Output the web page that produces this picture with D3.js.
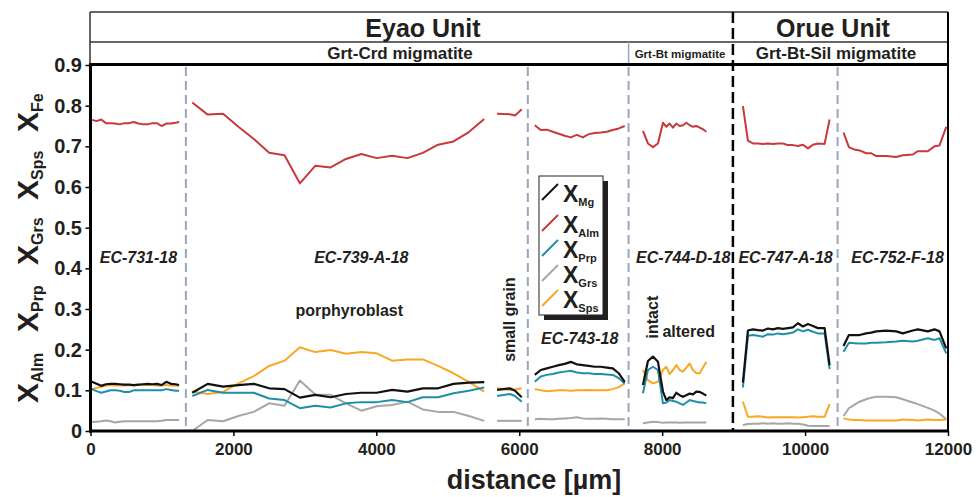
<!DOCTYPE html>
<html><head><meta charset="utf-8">
<script src="https://cdn.jsdelivr.net/npm/d3@7"></script>
<style>
body{margin:0;background:#fff}
svg{display:block}
text{font-family:"Liberation Sans",Arial,Helvetica,sans-serif;fill:#231f20}
</style>
</head><body><svg id="c" width="977" height="497"></svg>
<script>
// ---------------- DATA ----------------
const xTicks = [0,2000,4000,6000,8000,10000,12000];
const yTicks = [0,0.1,0.2,0.3,0.4,0.5,0.6,0.7,0.8,0.9];

// EC-731-18
const d731 = [20,85,150,215,280,345,410,475,540,605,670,735,800,865,930,995,1060,1125,1190,1240];
const alm731 = [0.765,0.762,0.766,0.757,0.757,0.756,0.754,0.757,0.757,0.760,0.756,0.754,0.754,0.757,0.757,0.750,0.756,0.756,0.758,0.760];
const mg731  = [0.121,0.116,0.111,0.115,0.116,0.116,0.115,0.114,0.114,0.113,0.114,0.115,0.116,0.115,0.116,0.113,0.121,0.116,0.115,0.113];
const sps731 = [0.103,0.106,0.109,0.112,0.113,0.112,0.112,0.112,0.113,0.112,0.113,0.113,0.114,0.113,0.112,0.112,0.113,0.112,0.111,0.111];
const prp731 = [0.103,0.098,0.094,0.097,0.100,0.100,0.099,0.096,0.096,0.100,0.100,0.100,0.100,0.100,0.100,0.100,0.103,0.101,0.099,0.099];
const grs731 = [0.022,0.023,0.024,0.026,0.024,0.021,0.023,0.024,0.024,0.024,0.024,0.024,0.024,0.024,0.024,0.025,0.027,0.027,0.027,0.027];

// EC-739-A-18 (porphyroblast)
const d739 = [1424,1640,1855,2070,2285,2500,2715,2930,3145,3360,3575,3790,4005,4220,4435,4650,4865,5080,5295,5510];
const alm739 = [0.808,0.778,0.780,0.748,0.718,0.684,0.678,0.609,0.652,0.648,0.669,0.681,0.671,0.677,0.671,0.684,0.704,0.712,0.735,0.767];
const mg739  = [0.094,0.116,0.109,0.113,0.116,0.105,0.103,0.082,0.089,0.083,0.091,0.094,0.094,0.101,0.097,0.105,0.105,0.116,0.119,0.120];
const sps739 = [0.097,0.091,0.096,0.117,0.135,0.160,0.173,0.206,0.194,0.199,0.190,0.194,0.191,0.173,0.176,0.176,0.160,0.142,0.121,0.097];
const prp739 = [0.086,0.101,0.094,0.094,0.094,0.080,0.076,0.056,0.062,0.058,0.068,0.071,0.071,0.076,0.071,0.083,0.083,0.093,0.099,0.107];
const grs739 = [0.000,0.027,0.024,0.037,0.047,0.068,0.062,0.124,0.090,0.089,0.068,0.050,0.061,0.064,0.072,0.053,0.047,0.047,0.037,0.025];

// EC-739-A-18 (small grain)
const dSmall = [5690,5867,5941,6035];
const almSmall = [0.780,0.779,0.776,0.791];
const mgSmall  = [0.101,0.105,0.099,0.083];
const spsSmall = [0.105,0.101,0.102,0.105];
const prpSmall = [0.086,0.091,0.086,0.072];
const grsSmall = [0.025,0.025,0.025,0.025];

// EC-743-18
const d743 = [6217,6301,6385,6469,6553,6637,6721,6805,6889,6973,7057,7141,7225,7309,7393,7476];
const alm743 = [0.752,0.740,0.741,0.736,0.731,0.726,0.722,0.728,0.722,0.730,0.733,0.734,0.736,0.740,0.744,0.750];
const mg743  = [0.138,0.150,0.154,0.158,0.162,0.165,0.170,0.164,0.162,0.160,0.158,0.158,0.156,0.154,0.142,0.121];
const sps743 = [0.103,0.100,0.098,0.099,0.100,0.100,0.099,0.100,0.100,0.101,0.100,0.100,0.100,0.103,0.108,0.117];
const prp743 = [0.121,0.134,0.138,0.140,0.144,0.146,0.148,0.144,0.142,0.142,0.140,0.140,0.139,0.138,0.130,0.117];
const grs743 = [0.029,0.030,0.029,0.029,0.030,0.031,0.032,0.034,0.031,0.030,0.030,0.031,0.030,0.029,0.029,0.029];

// EC-744-D-18
const d744 = [7731,7801,7871,7941,8011,8058,8104,8151,8198,8245,8291,8338,8385,8431,8478,8525,8571,8618];
const alm744 = [0.738,0.707,0.698,0.707,0.758,0.748,0.756,0.746,0.756,0.750,0.752,0.758,0.752,0.748,0.750,0.746,0.742,0.736];
const mg744  = [0.113,0.172,0.183,0.170,0.097,0.076,0.083,0.081,0.094,0.088,0.084,0.088,0.092,0.090,0.097,0.096,0.092,0.087];
const sps744 = [0.150,0.125,0.117,0.121,0.150,0.158,0.140,0.150,0.162,0.150,0.146,0.156,0.166,0.150,0.142,0.142,0.156,0.170];
const prp744 = [0.093,0.150,0.158,0.150,0.068,0.070,0.076,0.074,0.072,0.068,0.064,0.070,0.076,0.074,0.072,0.070,0.070,0.068];
const grs744 = [0.019,0.021,0.023,0.022,0.020,0.021,0.021,0.021,0.021,0.020,0.021,0.021,0.021,0.021,0.021,0.021,0.021,0.021];

// EC-747-A-18
const d747 = [9130,9200,9270,9340,9410,9480,9550,9620,9690,9760,9830,9900,9970,10040,10110,10180,10273,10343];
const alm747 = [0.799,0.714,0.707,0.707,0.706,0.707,0.706,0.707,0.707,0.703,0.703,0.701,0.704,0.695,0.704,0.707,0.706,0.766];
const mg747  = [0.119,0.247,0.250,0.248,0.247,0.252,0.250,0.253,0.251,0.253,0.255,0.265,0.257,0.263,0.258,0.253,0.253,0.162];
const sps747 = [0.072,0.035,0.035,0.036,0.035,0.033,0.034,0.034,0.034,0.034,0.034,0.033,0.034,0.035,0.036,0.035,0.035,0.066];
const prp747 = [0.107,0.234,0.236,0.234,0.232,0.238,0.237,0.240,0.238,0.240,0.242,0.250,0.245,0.249,0.244,0.240,0.240,0.152];
const grs747 = [0.015,0.017,0.018,0.018,0.019,0.018,0.019,0.018,0.018,0.019,0.018,0.018,0.016,0.013,0.012,0.012,0.012,0.012];

// EC-752-F-18
const d752 = [10538,10613,10692,10762,10855,10926,10996,11136,11276,11368,11508,11578,11718,11811,11881,11975];
const alm752 = [0.734,0.698,0.692,0.690,0.683,0.683,0.676,0.676,0.674,0.678,0.680,0.688,0.688,0.700,0.702,0.748];
const mg752  = [0.209,0.236,0.236,0.236,0.240,0.242,0.245,0.247,0.245,0.240,0.247,0.250,0.245,0.250,0.245,0.203];
const sps752 = [0.031,0.028,0.027,0.027,0.026,0.026,0.026,0.026,0.026,0.028,0.027,0.026,0.028,0.027,0.027,0.028];
const prp752 = [0.195,0.217,0.216,0.215,0.215,0.217,0.217,0.218,0.220,0.222,0.220,0.222,0.228,0.224,0.228,0.191];
const grs752 = [0.037,0.056,0.065,0.072,0.078,0.082,0.084,0.084,0.083,0.078,0.070,0.066,0.057,0.050,0.043,0.029];

// boundaries (µm)
const sampleBounds = [1335,6120,7530,10455];
const unitBound = 8990;

// labels
const sampleLabels = ["EC-731-18","EC-739-A-18","EC-743-18","EC-744-D-18","EC-747-A-18","EC-752-F-18"];
const sampleLabelX = [671,3790,6846,8294,9727,11294];
const sampleLabelY = [0.413,0.413,0.214,0.413,0.413,0.413];
const seriesKeys = ["grs","sps","prp","alm","mg"];
const seriesColors = {mg:"#111111",alm:"#c8383c",prp:"#1f8fa8",grs:"#a6a6a6",sps:"#f8a825"};
const legendKeys = ["Mg","Alm","Prp","Grs","Sps"];
const legendColorKeys = ["mg","alm","prp","grs","sps"];
const yLabelSubs = ["Alm","Prp","Grs","Sps","Fe"];

// build table from arrays
const segments = [
  {d:d731, mg:mg731, alm:alm731, prp:prp731, grs:grs731, sps:sps731},
  {d:d739, mg:mg739, alm:alm739, prp:prp739, grs:grs739, sps:sps739},
  {d:dSmall, mg:mgSmall, alm:almSmall, prp:prpSmall, grs:grsSmall, sps:spsSmall},
  {d:d743, mg:mg743, alm:alm743, prp:prp743, grs:grs743, sps:sps743},
  {d:d744, mg:mg744, alm:alm744, prp:prp744, grs:grs744, sps:sps744},
  {d:d747, mg:mg747, alm:alm747, prp:prp747, grs:grs747, sps:sps747},
  {d:d752, mg:mg752, alm:alm752, prp:prp752, grs:grs752, sps:sps752}
];

// ---------------- CHART ----------------
const svg = d3.select("#c");
const L = 90.5, R = 948, T = 65, B = 431;
const x = d3.scaleLinear().domain([0,12000]).range([L,R]);
const y = d3.scaleLinear().domain([0,0.9]).range([B,T]);
const dark = "#231f20";

// header
const hTop = 12, hMid = 42;
svg.append("line").attr("x1",L-0.5).attr("x2",R).attr("y1",hTop).attr("y2",hTop).attr("stroke","#333").attr("stroke-width",1.5);
svg.append("line").attr("x1",L-0.5).attr("x2",R).attr("y1",hMid).attr("y2",hMid).attr("stroke","#333").attr("stroke-width",1.5);
svg.append("line").attr("x1",L-0.5).attr("x2",L-0.5).attr("y1",hTop).attr("y2",T).attr("stroke","#333").attr("stroke-width",1.5);
svg.append("line").attr("x1",x(sampleBounds[2])).attr("x2",x(sampleBounds[2])).attr("y1",hMid).attr("y2",T).attr("stroke","#9aa5c0").attr("stroke-width",1.5);

svg.append("text").attr("x",423).attr("y",37).attr("text-anchor","middle").attr("font-size",25).attr("font-weight","bold").text("Eyao Unit");
svg.append("text").attr("x",833).attr("y",37).attr("text-anchor","middle").attr("font-size",25).attr("font-weight","bold").text("Orue Unit");
svg.append("text").attr("x",400).attr("y",59).attr("text-anchor","middle").attr("font-size",17).attr("font-weight","bold").text("Grt-Crd migmatite");
svg.append("text").attr("x",680).attr("y",58).attr("text-anchor","middle").attr("font-size",11.5).attr("font-weight","bold").text("Grt-Bt migmatite");
svg.append("text").attr("x",836).attr("y",59).attr("text-anchor","middle").attr("font-size",17).attr("font-weight","bold").text("Grt-Bt-Sil migmatite");

// boundaries
svg.selectAll("line.sb").data(sampleBounds).join("line").attr("class","sb")
  .attr("x1",d=>x(d)).attr("x2",d=>x(d)).attr("y1",T+2).attr("y2",B)
  .attr("stroke","#9aa5c0").attr("stroke-width",2).attr("stroke-dasharray","9,5");
svg.append("line").attr("x1",x(unitBound)).attr("x2",x(unitBound)).attr("y1",hTop).attr("y2",B)
  .attr("stroke","#000").attr("stroke-width",2.5).attr("stroke-dasharray","11,5");

// series lines
const line = d3.line().x(d=>x(d[0])).y(d=>y(d[1]));
segments.forEach(seg=>{
  seriesKeys.forEach(k=>{
    const pts = seg.d.map((dd,i)=>[dd, seg[k][i]]);
    svg.append("path").datum(pts).attr("d",line).attr("fill","none")
      .attr("stroke",seriesColors[k]).attr("stroke-width",k==="mg"?2.2:2).attr("stroke-linejoin","round");
  });
});

// axes
const yAxis = svg.append("g").attr("transform",`translate(${L},0)`)
  .call(d3.axisLeft(y).tickValues(yTicks).tickFormat(d=>d===0?"0":d3.format(".1f")(d)).tickSize(5).tickPadding(3.5).tickSizeOuter(0));
yAxis.select(".domain").remove();
yAxis.selectAll(".tick line").attr("stroke","#000").attr("stroke-width",1.5);
yAxis.selectAll(".tick text").attr("font-size",20).attr("font-weight","bold").attr("fill","#000").style("font-family","'Liberation Sans',Arial,sans-serif");

const xAxis = svg.append("g").attr("transform",`translate(0,${B})`)
  .call(d3.axisBottom(x).tickValues(xTicks).tickFormat(d3.format("d")).tickSize(5).tickPadding(7).tickSizeOuter(0));
xAxis.select(".domain").remove();
xAxis.selectAll(".tick line").attr("stroke","#000").attr("stroke-width",1.5);
xAxis.selectAll(".tick text").attr("font-size",17).attr("font-weight","bold").attr("fill","#000").style("font-family","'Liberation Sans',Arial,sans-serif");

// frame
svg.append("line").attr("x1",L).attr("x2",L).attr("y1",T-1.5).attr("y2",B+1.5).attr("stroke","#000").attr("stroke-width",3);
svg.append("line").attr("x1",L-1.5).attr("x2",R+1).attr("y1",B).attr("y2",B).attr("stroke","#000").attr("stroke-width",3);
svg.append("line").attr("x1",L-1.5).attr("x2",R+1).attr("y1",T-0.5).attr("y2",T-0.5).attr("stroke","#000").attr("stroke-width",3);
svg.append("line").attr("x1",R).attr("x2",R).attr("y1",hTop).attr("y2",B).attr("stroke","#000").attr("stroke-width",2);

// sample labels
svg.selectAll("text.sl").data(sampleLabels).join("text").attr("class","sl")
  .attr("x",(d,i)=>x(sampleLabelX[i])).attr("y",(d,i)=>y(sampleLabelY[i]))
  .attr("text-anchor","middle").attr("font-size",16).attr("font-weight","bold").attr("font-style","italic").text(d=>d);
svg.append("text").attr("x",x(3622)).attr("y",y(0.283)).attr("text-anchor","middle").attr("font-size",16).attr("font-weight","bold").text("porphyroblast");
svg.append("text").attr("x",x(8371)).attr("y",y(0.231)).attr("text-anchor","middle").attr("font-size",16).attr("font-weight","bold").text("altered");
svg.append("text").attr("transform",`translate(${x(5937)},${y(0.274)}) rotate(-90)`).attr("text-anchor","middle").attr("font-size",16).attr("font-weight","bold").text("small grain");
svg.append("text").attr("transform",`translate(${x(7937)},${y(0.280)}) rotate(-90)`).attr("text-anchor","middle").attr("font-size",16).attr("font-weight","bold").text("intact");

// y label (stacked rotated X_sub)
const yLabStarts = [403,332,265,200,132];
yLabelSubs.forEach((s,i)=>{
  const t = svg.append("text").attr("transform",`translate(38,${yLabStarts[i]}) rotate(-90)`).attr("font-weight","bold").attr("fill","#000");
  t.append("tspan").attr("font-size",30).text("X");
  t.append("tspan").attr("font-size",16).attr("dy",5).text(s);
});

// legend
const lgX = 539, lgY = 176, lgW = 64, lgH = 139;
svg.append("rect").attr("x",lgX+5).attr("y",lgY+5).attr("width",lgW).attr("height",lgH).attr("fill",dark);
svg.append("rect").attr("x",lgX).attr("y",lgY).attr("width",lgW).attr("height",lgH).attr("fill","#fff").attr("stroke","#222").attr("stroke-width",1);
const lgBase = [202,233,258,283,308];
legendKeys.forEach((k,i)=>{
  const by = lgBase[i];
  svg.append("line").attr("x1",lgX+3).attr("y1",by-2).attr("x2",lgX+19).attr("y2",by-18)
    .attr("stroke",seriesColors[legendColorKeys[i]]).attr("stroke-width",2);
  const t = svg.append("text").attr("x",lgX+24).attr("y",by).attr("font-weight","bold").attr("fill","#000");
  t.append("tspan").attr("font-size",23).text("X");
  t.append("tspan").attr("font-size",11).attr("dy",4).text(k);
});

// x label
svg.append("text").attr("x",534).attr("y",489).attr("text-anchor","middle").attr("font-size",27).attr("font-weight","bold").text("distance [µm]");
</script></body></html>
